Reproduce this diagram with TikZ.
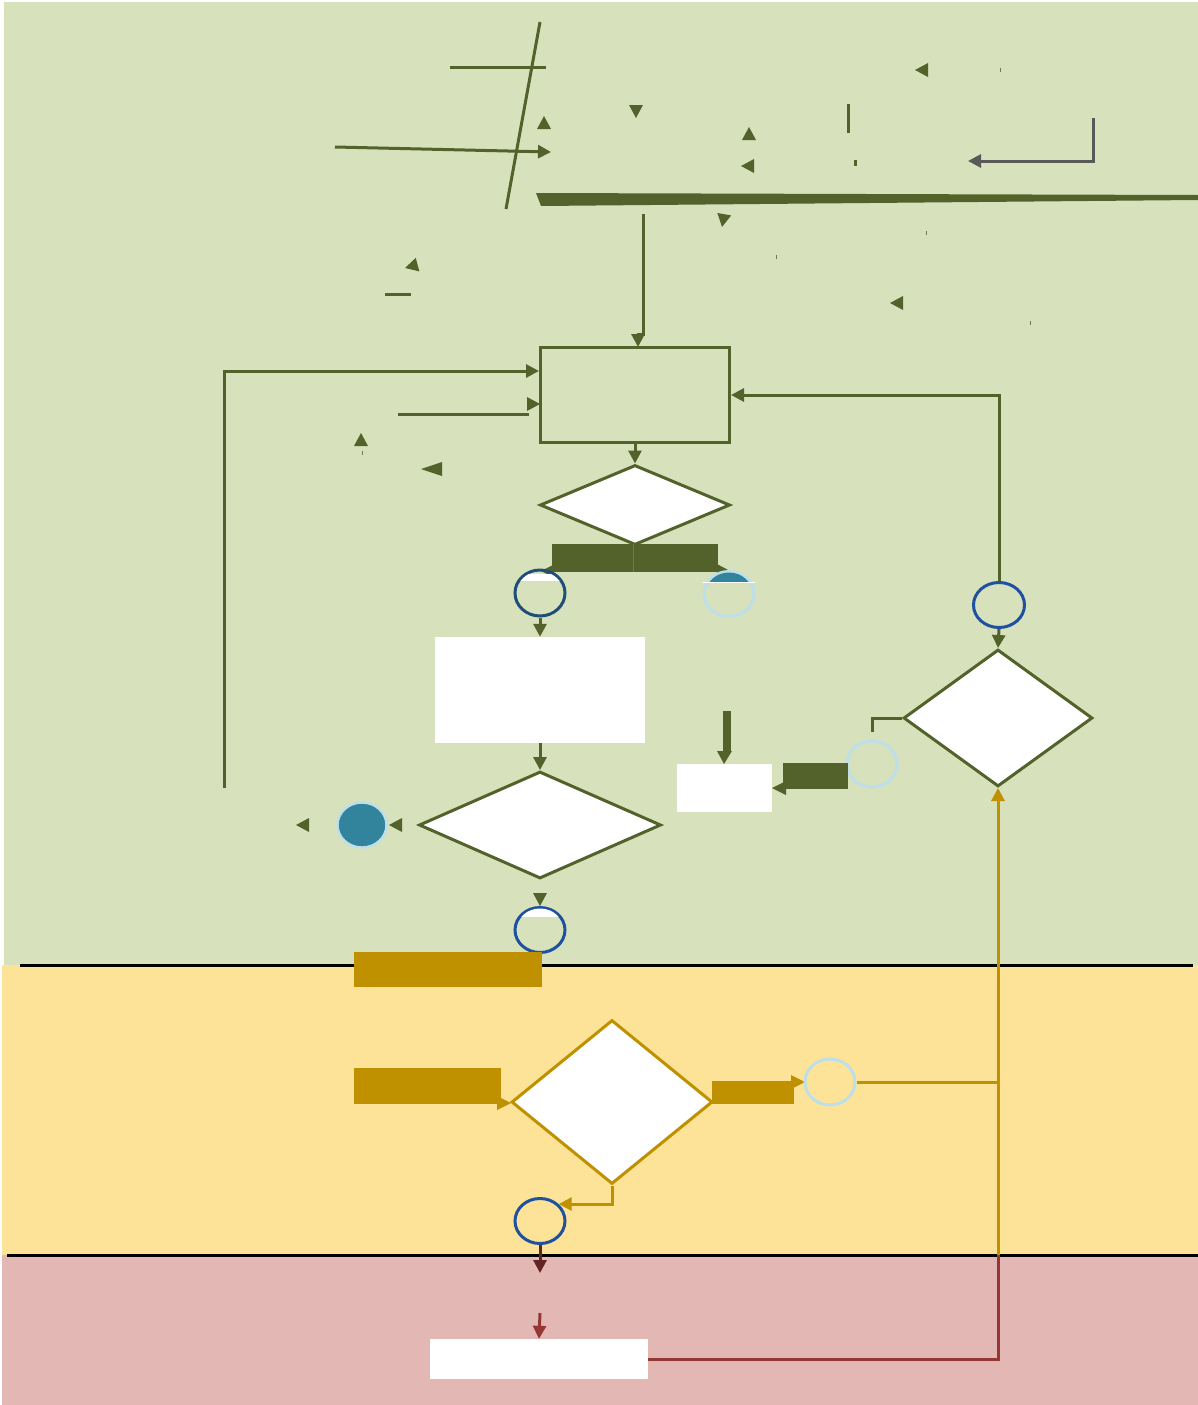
\documentclass[tikz,border=0pt]{standalone}
\usetikzlibrary{arrows.meta,shapes.geometric,calc}
\definecolor{cGreen}{HTML}{D7E2BD}
\definecolor{cYellow}{HTML}{FDE398}
\definecolor{cPink}{HTML}{E3B7B4}
\definecolor{cOlive}{HTML}{52622A}
\definecolor{cOliveL}{HTML}{6E7D45}
\definecolor{cGold}{HTML}{BF9000}
\definecolor{cDTeal}{HTML}{1F4E79}
\definecolor{cBlue}{HTML}{2050A0}
\definecolor{cLBlue}{HTML}{BDDFEB}
\definecolor{cTeal}{HTML}{31849B}
\definecolor{cRed}{HTML}{943634}
\definecolor{cDRed}{HTML}{632523}
\definecolor{cGray}{HTML}{595959}
\newcommand\arrtip[4][cOlive]{\fill[#1,shift={(#2,#3)},rotate=#4] (0,0) -- (-13,7) -- (-13,-7) -- cycle;}
\begin{document}
\begin{tikzpicture}[x=1pt,y=-1pt,
  ln/.style={draw=cOlive,line width=3pt},
  arr/.style={ln,-{Triangle[length=13pt,width=13pt]}},
  garr/.style={draw=cGold,line width=3pt,-{Triangle[length=13pt,width=13pt]}},
  dia/.style={diamond,draw=cOlive,line width=3pt,fill=white,inner sep=0pt},
  conn/.style={ellipse,draw=cBlue,line width=3pt,inner sep=0pt,minimum width=50pt,minimum height=45pt},
  wbox/.style={rectangle,fill=white,inner sep=0pt}]
\useasboundingbox (0,0) rectangle (1198,1405);
\fill[white] (0,0) rectangle (1198,1405);
\fill[cGreen] (4,2) rectangle (1198,965);
\fill[cYellow] (2,965) rectangle (1198,1255);
\fill[cPink] (2,1255) rectangle (1198,1405);
\draw[black,line width=3pt] (20,965) -- (1193,965);
\draw[black,line width=3pt] (7,1255) -- (1198,1255);

% ---- top fragments
\draw[ln] (450,68) -- (546,68);
\draw[ln] (540,22) -- (506,209);
\coordinate (ta) at (335,147);
\coordinate (tb) at (551,152);
\draw[arr] (ta) -- (tb);
\arrtip{544}{116}{90}
\arrtip{636}{118}{-90}
\arrtip{749}{127}{90}
\arrtip{741}{166}{180}
\arrtip{915}{70}{180}
\arrtip{722}{227}{-100}
\arrtip{405}{268}{195}
\arrtip{890}{303}{180}
\arrtip{361}{433}{90}
\fill[cOlive] (421,469) -- (442,462) -- (442,476) -- cycle;
\draw[cOlive,line width=3pt] (848,104) -- (848,133);
\draw[cOlive,line width=3pt] (855,160) -- (855,166);
\foreach \p/\q in {1000/70,926/233,776/257,1030/323,362/453}
  \draw[cOliveL,line width=1pt] (\p,\q-2) -- (\p,\q+2);
\draw[cGray,line width=3pt,-{Triangle[length=13pt,width=13pt]}] (1093,118) -- (1093,161) -- (968,161);
\fill[cOlive] (536,193) -- (1198,195) -- (1198,200) -- (541,206) -- cycle;
\draw[ln] (385,294) -- (411,294);

% ---- main box
\node[draw=cOlive,line width=3pt,minimum width=189pt,minimum height=95pt,inner sep=0pt] (box) at (635,395) {};
\coordinate (tv) at (643,214);
\draw[arr] (tv) -- (643,334) -- (638,334) -- (638,347);
\coordinate (lb) at (224,788);
\draw[arr] (lb) |- ($(box.north west)+(0,25)$);
\coordinate (ls) at (398,414);
\draw[ln] (ls) -- (529,414);
\arrtip{540}{404}{0}

\node[dia,minimum width=190pt,minimum height=80pt] (d1) at (635,505) {};
\draw[arr] (box.south) -- (d1.north);

% bars under d1
\fill[cOlive] (552,544) rectangle (718,572);
\draw[cOliveL,line width=0.8pt] (633,544) -- (633,572);
\fill[cOlive] (541,571) -- (553,565) -- (553,577) -- cycle;
\fill[cOlive] (730,571) -- (717,564) -- (717,578) -- cycle;

\node[conn,draw=cDTeal,minimum width=50pt,minimum height=46pt] (c1) at (540,593) {};
\begin{scope}
  \clip (510,574) rectangle (570,580);
  \fill[white] (540,593) ellipse (23.5 and 21.5);
\end{scope}
\node[conn,draw=cLBlue,minimum width=50pt,minimum height=45pt] (c2) at (729,594) {};
\begin{scope}
  \clip (700,560) rectangle (760,582);
  \fill[cTeal] (729,594) ellipse (23.5 and 21.5);
\end{scope}
\draw[white,line width=0.8pt] (703,582.5) -- (755,582.5);

\node[wbox,minimum width=210pt,minimum height=106pt] (r1) at (540,690) {};
\draw[arr] (c1.south) -- (r1.north);
\node[dia,minimum width=242pt,minimum height=107pt] (d2) at (540,825) {};
\draw[arr] (r1.south) -- (d2.north);

\node[ellipse,fill=cTeal,draw=cLBlue,line width=2.4pt,minimum width=49pt,minimum height=45pt,inner sep=0pt] (t1) at (362,825) {};
\arrtip{389}{825}{180}
\arrtip{296}{825}{180}
\arrtip{540}{906}{-90}

\node[conn,minimum width=50pt,minimum height=45pt] (c3) at (540,930) {};
\begin{scope}
  \clip (510,905) rectangle (570,916);
  \fill[white] (540,930) ellipse (23.5 and 21.5);
\end{scope}

% right column
\node[conn,minimum width=51pt,minimum height=45pt] (c4) at (999,605) {};
\draw[arr] (c4.north) |- (box.east);
\node[dia,minimum width=189pt,minimum height=137pt] (d3) at (998,718) {};
\draw[arr] (c4.south) -- (d3.north);
\node[conn,draw=cLBlue,minimum width=50pt,minimum height=46pt] (c6) at (872,764) {};
\coordinate (c6t) at (872,732);
\draw[ln] (d3.west) -| (c6t);

\node[wbox,minimum width=95pt,minimum height=48pt] (r2) at (724.5,788) {};
\fill[cOlive] (722.5,711) rectangle (731,752);
\fill[cOlive] (717,751) -- (732,751) -- (724,764) -- cycle;
\fill[cOlive] (783,763) rectangle (848,789);
\fill[cOlive] (786,781) -- (786,795) -- (772,788) -- cycle;

% ---- yellow band
\fill[cGold] (354,952) rectangle (542,987);
\fill[cGold] (354,1068) rectangle (501,1104);
\fill[cGold] (497,1096) -- (497,1110) -- (511,1103) -- cycle;
\node[dia,draw=cGold,minimum width=201pt,minimum height=164pt] (d4) at (612,1102) {};
\fill[cGold] (712,1081) rectangle (794,1104);
\fill[cGold] (791,1075) -- (791,1089) -- (805,1082) -- cycle;
\node[conn,draw=cLBlue,minimum width=50pt,minimum height=46pt] (c7) at (830,1082) {};
\node[conn,minimum width=50pt,minimum height=45pt] (c5) at (540,1221) {};
\draw[garr] (d4.south) |- (c5.north east);

% ---- red band
\node[wbox,minimum width=218pt,minimum height=40pt] (r4) at (539,1359) {};
\coordinate (rj) at (998,1255);
\draw[cRed,line width=3pt] (r4.east) -| (rj);
\draw[garr] (rj) -- (d3.south);
\draw[cGold,line width=3pt] (c7.east) -- (998,1082);
\coordinate (dre) at (540,1273);
\draw[cDRed,line width=3pt,-{Triangle[length=13pt,width=13pt]}] (c5.south) -- (dre);
\coordinate (rs) at (540,1313);
\draw[cRed,line width=3pt,-{Triangle[length=13pt,width=13pt]}] (rs) -- (r4.north);
\end{tikzpicture}
\end{document}
